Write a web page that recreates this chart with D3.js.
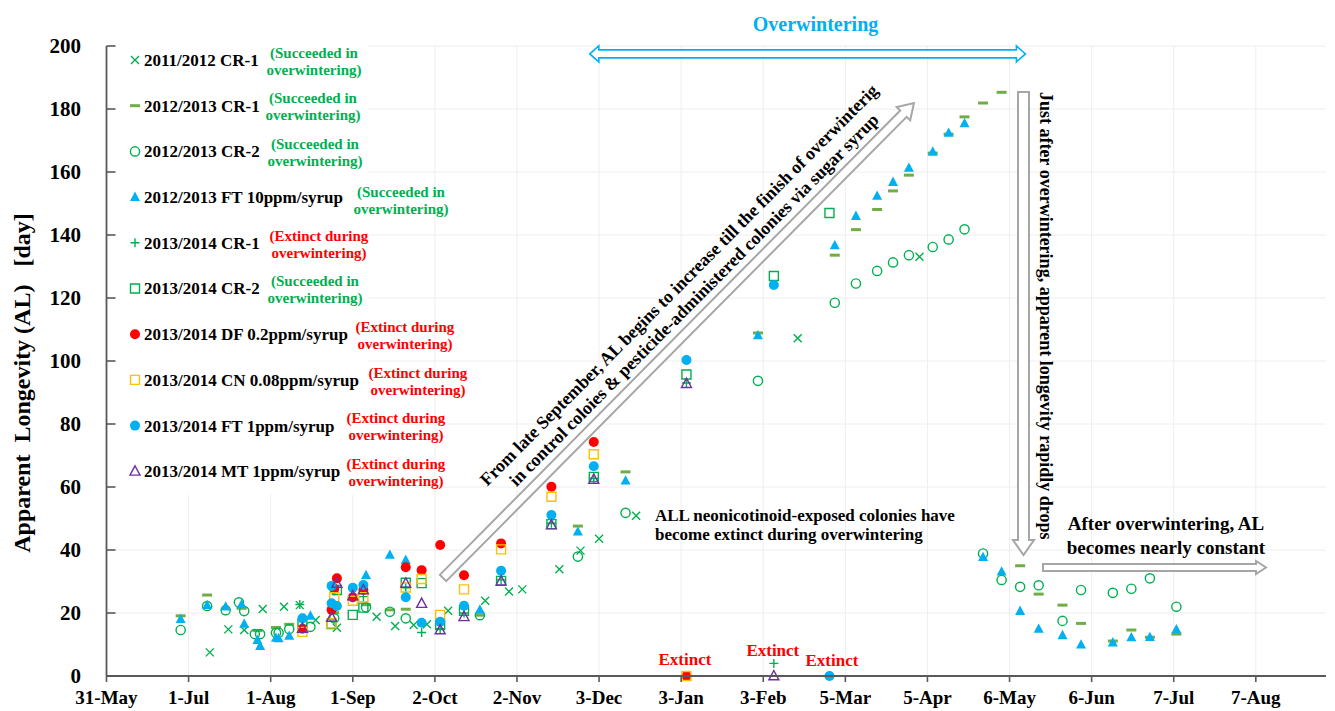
<!DOCTYPE html>
<html><head><meta charset="utf-8">
<script src="https://cdn.jsdelivr.net/npm/d3@7"></script>
<style>
body{margin:0;background:#fff}
svg{display:block}
text{font-family:"Liberation Serif","Times New Roman",serif;font-weight:bold}
</style>
</head><body>
<svg id="chart" width="1335" height="711"></svg>
<script>
// ---------- data (x = days after 31-May, y = apparent longevity [day]) ----------
const tickDays   = [0,31,62,93,124,155,186,217,248,279,310,341,372,403,434];
const tickLabels = ["31-May","1-Jul","1-Aug","1-Sep","2-Oct","2-Nov","3-Dec","3-Jan","3-Feb","5-Mar","5-Apr","6-May","6-Jun","7-Jul","7-Aug"];
const yTicks     = [0,20,40,60,80,100,120,140,160,180,200];

const seriesNames = ["2011/2012 CR-1","2012/2013 CR-1","2012/2013 CR-2","2012/2013 FT 10ppm/syrup","2013/2014 CR-1",
  "2013/2014 CR-2","2013/2014 DF 0.2ppm/syrup","2013/2014 CN 0.08ppm/syrup","2013/2014 FT 1ppm/syrup","2013/2014 MT 1ppm/syrup"];
const seriesNotes = [
  ["(Succeeded in","overwintering)"],["(Succeeded in","overwintering)"],["(Succeeded in","overwintering)"],
  ["(Succeeded in","overwintering)"],["(Extinct during","overwintering)"],["(Succeeded in","overwintering)"],
  ["(Extinct during","overwintering)"],["(Extinct during","overwintering)"],["(Extinct during","overwintering)"],
  ["(Extinct during","overwintering)"]];
const noteSucceeded = [true,true,true,true,false,true,false,false,false,false];

const cr1_1112 = [[39,7.5],[46,14.8],[52,14.6],[59,21.3],[67,22.0],[73,22.5],[79,17.8],[87,15.3],[102,18.8],[109,15.9],
  [116,16.2],[121,16.4],[129,20.7],[143,23.9],[152,26.8],[157,27.5],[171,33.9],[179,39.8],[186,43.6],[200,50.9],[261,107.2],[307,133.1]];
const cr1_1213 = [[28,19.1],[38,25.7],[51,21.5],[57,14.4],[64,15.4],[69,16.4],[86,20.1],[98,22.6],[107,21.0],[113,21.2],
  [141,19.3],[178,47.6],[196,64.8],[246,108.9],[275,133.6],[283,141.7],[291,148.1],[297,154.0],[303,159.0],[312,166.0],
  [318,172.0],[324,177.5],[331,181.9],[338,185.3],[345,35.0],[352,26.0],[361,22.5],[368,16.7],[380,11.1],[387,14.6],[394,12.3],[404,13.3]];
const cr2_1213 = [[28,14.6],[38,22.2],[45,20.9],[50,23.4],[52,20.6],[56,13.3],[58,13.3],[64,13.7],[65,13.7],[69,14.9],
  [77,15.6],[86,18.3],[98,21.8],[107,20.4],[113,18.3],[141,19.3],[178,37.9],[196,51.8],[246,93.7],[275,118.5],[283,124.6],
  [291,128.6],[297,131.3],[303,133.6],[312,136.2],[318,138.6],[324,141.8],[331,38.9],[338,30.5],[345,28.3],[352,28.8],
  [361,17.5],[368,27.3],[380,26.4],[387,27.7],[394,31.0],[404,22.0]];
const ft10_1213 = [[28,18.0],[38,22.5],[45,22.0],[51,22.7],[52,16.5],[57,11.4],[58,9.5],[64,12.1],[65,11.9],[69,12.7],
  [77,19.1],[98,32.0],[107,38.4],[113,36.8],[141,21.0],[178,45.8],[196,62.0],[246,108.1],[275,136.7],[283,146.0],[291,152.4],
  [297,156.8],[303,161.3],[312,166.4],[318,172.4],[324,175.4],[331,37.7],[338,33.1],[345,20.6],[352,14.9],[361,12.9],
  [368,9.9],[380,10.6],[387,12.2],[394,12.3],[404,14.8]];
const cr1_1314 = [[73,22.7],[86,27.0],[97,25.2],[113,28.0],[119,13.8],[126,15.0],[135,20.0],[149,30.5],[168,48.5],[184,62.7],[219,93.0],[252,4.0]];
const cr2_1314 = [[74,16.7],[85,16.5],[87,27.3],[93,19.4],[97,21.7],[113,29.6],[119,29.5],[126,16.2],[135,20.7],[149,30.2],
  [168,48.2],[184,63.2],[219,95.7],[252,127.0],[273,147.0]];
const df_1314 = [[74,15.0],[85,21.0],[86,27.8],[87,31.0],[93,25.0],[97,27.3],[113,34.5],[119,33.6],[126,41.6],[135,32.0],
  [149,42.1],[168,60.1],[184,74.3],[219,0]];
const cn_1314 = [[74,14.0],[85,16.7],[86,25.0],[93,23.9],[97,25.0],[113,28.1],[119,30.8],[126,19.4],[135,27.5],[149,40.2],
  [168,56.9],[184,70.4],[219,0]];
const ft1_1314 = [[74,18.3],[85,23.1],[85,28.6],[87,22.2],[93,28.0],[97,28.9],[113,25.0],[119,16.9],[126,17.2],[135,22.3],
  [149,33.4],[168,51.1],[184,66.6],[219,100.3],[252,124.1],[273,0]];
const mt_1314 = [[74,15.1],[85,18.6],[87,29.4],[93,25.4],[97,27.3],[113,29.4],[119,23.0],[126,14.6],[135,18.8],[149,30.1],
  [168,47.9],[184,62.4],[219,92.8],[252,0]];

const seriesData = [cr1_1112,cr1_1213,cr2_1213,ft10_1213,cr1_1314,cr2_1314,df_1314,cn_1314,ft1_1314,mt_1314];
const seriesShape = ["x","dash","circle","tri","plus","square","dot","square","dot","triOpen"];
const seriesColor = ["#00b050","#70ad47","#00b050","#00b0f0","#00b050","#00b050","#ff0000","#ffc000","#00b0f0","#7030a0"];

// extinct labels: [day, value]
const extinctLabels = [[219,5.3],[252,8.2],[273,5.0]];

// ---------- drawing ----------
const svg = d3.select("#chart");
const x = d3.scaleLinear().domain([0,460.5]).range([106.5,1326]);
const y = d3.scaleLinear().domain([0,200]).range([676,46]);

// gridlines
const grid = svg.append("g");
grid.selectAll("line.h").data(yTicks.slice(1)).join("line")
  .attr("x1",x(0)).attr("x2",x(460.5)).attr("y1",d=>y(d)).attr("y2",d=>y(d))
  .attr("stroke","#eeeeee").attr("stroke-width",1);
grid.selectAll("line.v").data(tickDays.slice(1)).join("line")
  .attr("x1",d=>x(d)).attr("x2",d=>x(d)).attr("y1",y(0)).attr("y2",y(200))
  .attr("stroke","#eeeeee").attr("stroke-width",1);

// legend background (covers gridlines)
svg.append("rect").attr("x",108).attr("y",40).attr("width",260).attr("height",455).attr("fill","#fff");

// marker path generator
function markerPath(type){
  switch(type){
    case "x": return "M-4,-4L4,4M-4,4L4,-4";
    case "plus": return "M-4.5,0L4.5,0M0,-4.5L0,4.5";
    case "dash": return "M-5,-1.5L5,-1.5L5,1.5L-5,1.5Z";
    case "circle": return "M4.6,0A4.6,4.6 0 1,1 -4.6,0A4.6,4.6 0 1,1 4.6,0Z";
    case "dot": return "M5,0A5,5 0 1,1 -5,0A5,5 0 1,1 5,0Z";
    case "square": return "M-4.5,-4.5L4.5,-4.5L4.5,4.5L-4.5,4.5Z";
    case "tri": return "M0,-5.5L5,3.8L-5,3.8Z";
    case "triOpen": return "M0,-5.5L5,3.8L-5,3.8Z";
  }
}
function styleMarker(sel,type,color){
  const filled = (type==="dot"||type==="tri"||type==="dash");
  sel.attr("d",markerPath(type))
     .attr("fill",filled?color:"none")
     .attr("stroke",filled?"none":color)
     .attr("stroke-width",1.4);
}

// data marks
seriesData.forEach((data,i)=>{
  const g = svg.append("g");
  g.selectAll("path").data(data).join("path")
    .attr("transform",d=>`translate(${x(d[0])},${y(d[1])})`)
    .call(styleMarker,seriesShape[i],seriesColor[i]);
});

// axes
const axisColor = "#595959";
svg.append("line").attr("x1",x(0)).attr("x2",x(0)).attr("y1",y(0)).attr("y2",y(200))
  .attr("stroke",axisColor).attr("stroke-width",1.8);
svg.append("line").attr("x1",x(0)).attr("x2",x(460.5)).attr("y1",y(0)).attr("y2",y(0))
  .attr("stroke",axisColor).attr("stroke-width",1.8);
svg.selectAll("line.yt").data(yTicks).join("line")
  .attr("x1",x(0)).attr("x2",x(0)+9).attr("y1",d=>y(d)).attr("y2",d=>y(d))
  .attr("stroke",axisColor).attr("stroke-width",1.6);
svg.selectAll("line.xt").data(tickDays).join("line")
  .attr("x1",d=>x(d)).attr("x2",d=>x(d)).attr("y1",y(0)).attr("y2",y(0)+6)
  .attr("stroke",axisColor).attr("stroke-width",1.6);
svg.selectAll("text.yl").data(yTicks).join("text")
  .attr("x",81).attr("y",d=>y(d)).attr("dy","0.35em").attr("text-anchor","end")
  .attr("font-size",21).attr("fill","#000").text(d=>d);
svg.selectAll("text.xl").data(tickDays).join("text")
  .attr("x",d=>x(d)).attr("y",704).attr("text-anchor","middle")
  .attr("font-size",19).attr("fill","#000").text((d,i)=>tickLabels[i]);

// y axis title
svg.append("text").attr("transform","translate(22,383) rotate(-90)")
  .attr("text-anchor","middle").attr("dy","0.35em").attr("font-size",24)
  .style("white-space","pre").text("Apparent  Longevity (AL)   [day]");

// legend
const noteCx = [314,313,315,401,319,315,405,418,396,396];
seriesNames.forEach((name,i)=>{
  const ly = 60 + i*45.7;
  svg.append("path").attr("transform",`translate(135,${ly})`).call(styleMarker,seriesShape[i],seriesColor[i]);
  svg.append("text").attr("x",144).attr("y",ly).attr("dy","0.35em").attr("font-size",17).attr("fill","#000").text(name);
  const nc = noteSucceeded[i] ? "#00b050" : "#ff0000";
  const off = i===3 ? [-5,11.5] : [-7.5,9.5];
  seriesNotes[i].forEach((t,k)=>{
    svg.append("text").attr("x",noteCx[i]).attr("y",ly+off[k]).attr("dy","0.35em")
      .attr("text-anchor","middle").attr("font-size",15).attr("fill",nc).text(t);
  });
});

// block arrow helpers
function singleArrow(L,w,h,hl){
  return `M0,${-w}L${L-hl},${-w}L${L-hl},${-h}L${L},0L${L-hl},${h}L${L-hl},${w}L0,${w}Z`;
}
function doubleArrow(L,w,h,hl){
  return `M0,0L${hl},${-h}L${hl},${-w}L${L-hl},${-w}L${L-hl},${-h}L${L},0L${L-hl},${h}L${L-hl},${w}L${hl},${w}L${hl},${h}Z`;
}

// overwintering double arrow + label
const owL = x(182.5), owR = x(347), owY = y(197.5);
svg.append("path").attr("transform",`translate(${owL},${owY})`)
  .attr("d",doubleArrow(owR-owL,4,8,9)).attr("fill","#fff").attr("stroke","#00b0f0").attr("stroke-width",1.6);
svg.append("text").attr("x",815.5).attr("y",24).attr("dy","0.35em").attr("text-anchor","middle")
  .attr("font-size",20).attr("fill","#00b0f0").text("Overwintering");

// diagonal arrow
const dx0=443, dy0=578, dx1=914, dy1=103;
const dAng = Math.atan2(dy1-dy0,dx1-dx0)*180/Math.PI;
const dLen = Math.hypot(dx1-dx0,dy1-dy0);
svg.append("path").attr("transform",`translate(${dx0},${dy0}) rotate(${dAng})`)
  .attr("d",singleArrow(dLen,4.5,9.5,15)).attr("fill","#fff").attr("stroke","#a6a6a6").attr("stroke-width",2);
const dt = svg.append("text").attr("transform",`translate(686,292) rotate(${dAng})`)
  .attr("text-anchor","middle").attr("font-size",18).attr("fill","#000");
dt.append("tspan").attr("x",0).attr("y",-4).text("From late September, AL begins to increase till the finish of overwinterig");
dt.append("tspan").attr("x",0).attr("y",17).text("in control coloies & pesticide-administered colonies via sugar syrup");

// vertical arrow
svg.append("path").attr("transform","translate(1023.5,92) rotate(90)")
  .attr("d",singleArrow(463,5.5,10.5,15)).attr("fill","#fff").attr("stroke","#a6a6a6").attr("stroke-width",2);
svg.append("text").attr("transform","translate(1046,92) rotate(90)").attr("dy","0.35em")
  .attr("font-size",18).attr("fill","#000").text("Just after overwintering, apparent longevity rapidly drops");

// horizontal arrow
svg.append("path").attr("transform","translate(1043,567.5)")
  .attr("d",singleArrow(223,3.5,6.5,10)).attr("fill","#fff").attr("stroke","#a6a6a6").attr("stroke-width",2);
const ht = svg.append("text").attr("text-anchor","middle").attr("font-size",19).attr("fill","#000");
ht.append("tspan").attr("x",1166).attr("y",530).text("After overwintering, AL");
ht.append("tspan").attr("x",1166).attr("y",554).text("becomes nearly constant");

// ALL neonicotinoid note
const an = svg.append("text").attr("font-size",17).attr("fill","#000");
an.append("tspan").attr("x",655).attr("y",521).text("ALL neonicotinoid-exposed colonies have");
an.append("tspan").attr("x",655).attr("y",540).text("become extinct during overwintering");

// Extinct labels
svg.selectAll("text.ext").data(extinctLabels).join("text")
  .attr("x",d=>x(d[0])+(d[0]===219?-1.5:(d[0]===252?-1:2.5))).attr("y",d=>y(d[1])).attr("dy","0.35em")
  .attr("text-anchor","middle").attr("font-size",17).attr("fill","#ff0000").text("Extinct");
</script>
</body></html>
